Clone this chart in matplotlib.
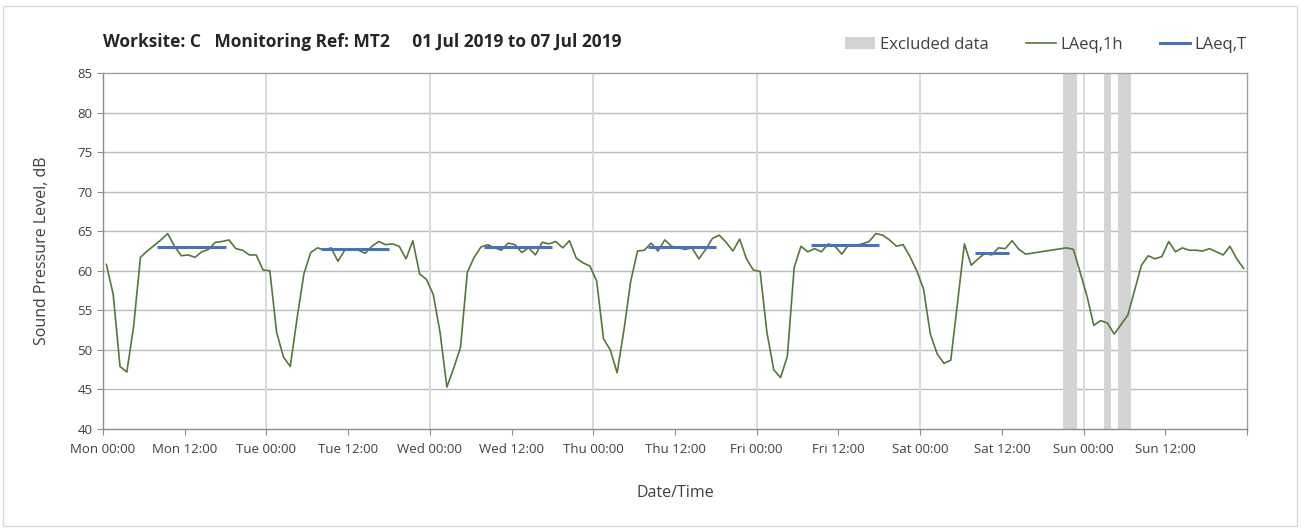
import numpy as np
import matplotlib.pyplot as plt
from matplotlib.lines import Line2D
from matplotlib.patches import Patch, Rectangle

plt.rcParams['font.family'] = ['Open Sans', 'DejaVu Sans']

# hourly LAeq,1h values (hour index from Mon 00:00), nan = no point drawn
laeq_1h = [
    60.8, 57.0, 47.9, 47.2, 53.0, 61.7, 62.5, 63.2, 63.9, 64.7, 63.1, 61.9,
    62.0, 61.7, 62.4, 62.7, 63.6, 63.7, 63.9, 62.8, 62.6, 62.0, 62.0, 60.1,
    60.0, 52.2, 49.1, 47.9, 54.0, 59.6, 62.3, 62.9, 62.6, 62.9, 61.2, 62.6,
    62.7, 62.6, 62.2, 63.1, 63.7, 63.3, 63.4, 63.1, 61.5, 63.8, 59.6, 58.9,
    57.0, 52.2, 45.3, 47.7, 50.3, 59.8, 61.7, 63.0, 63.3, 62.9, 62.6, 63.5,
    63.3, 62.3, 62.9, 62.0, 63.6, 63.4, 63.7, 62.9, 63.8, 61.6, 61.0, 60.6,
    58.7, 51.4, 50.0, 47.1, 52.5, 58.7, 62.5, 62.6, 63.5, 62.5, 63.9, 63.1,
    62.9, 62.7, 62.9, 61.5, 62.7, 64.1, 64.5, 63.6, 62.5, 64.0, 61.5, 60.1,
    59.9, 52.2, 47.5, 46.5, 49.2, 60.4, 63.1, 62.4, 62.8, 62.4, 63.4, 63.1,
    62.1, 63.3, 63.2, 63.4, 63.7, 64.7, 64.5, 63.9, 63.1, 63.3, 61.8, 60.0,
    57.7, 52.0, 49.5, 48.3, 48.7, np.nan, 63.4, 60.7, 61.5, 62.2, 62.0, 62.9,
    62.8, 63.8, 62.7, 62.1, np.nan, np.nan, np.nan, np.nan, np.nan, 62.9, 62.7, 59.8,
    56.8, 53.1, 53.7, 53.4, 52.0, np.nan, 54.4, np.nan, 60.7, 61.9, 61.5, 61.8,
    63.7, 62.4, 62.9, 62.6, 62.6, 62.5, 62.8, 62.4, 62.0, 63.1, 61.5, 60.3,
]

# LAeq,T daytime periods (hours from Mon 00:00)
laeqT_start = [8, 32, 56, 80, 104, 128]
laeqT_end = [18, 42, 66, 90, 114, 133]
laeqT_values = [63.0, 62.7, 63.0, 63.0, 63.2, 62.3]

# excluded periods (hours from Mon 00:00)
excl_start = [141, 147, 149]
excl_end = [143, 148, 151]

tick_labels = ["Mon 00:00", "Mon 12:00", "Tue 00:00", "Tue 12:00", "Wed 00:00",
               "Wed 12:00", "Thu 00:00", "Thu 12:00", "Fri 00:00", "Fri 12:00",
               "Sat 00:00", "Sat 12:00", "Sun 00:00", "Sun 12:00", ""]

hours = np.arange(len(laeq_1h)) + 0.5
vals = np.array(laeq_1h)
ok = ~np.isnan(vals)

green = '#56773a'
blue = '#4472c4'
grey_band = '#d4d4d4'
txt = '#404040'

fig = plt.figure(figsize=(13.01, 5.29), dpi=100)
ax = fig.add_axes([103 / 1301, 1 - 429 / 529, 1144 / 1301, 356 / 529])

# outer chart border
fig.patches.append(Rectangle((3 / 1301, 3 / 529), 1294 / 1301, 520 / 529,
                             transform=fig.transFigure, fill=False,
                             edgecolor='#d9d9d9', lw=1))

for s, e in zip(excl_start, excl_end):
    ax.axvspan(s, e, color=grey_band, lw=0, zorder=1)

ax.plot(hours[ok], vals[ok], color=green, lw=1.2, zorder=3)
ax.hlines(laeqT_values, laeqT_start, laeqT_end, color=blue, lw=2.2, zorder=4)

ax.set_xlim(0, 168)
ax.set_ylim(40, 85)
ax.set_yticks(np.arange(40, 86, 5))
ax.set_xticks(np.arange(0, 169, 12))
ax.set_xticklabels(tick_labels)

# gridlines: horizontal every 5 dB, vertical at day boundaries
for y in range(45, 85, 5):
    ax.axhline(y, color='#bcbcbc', lw=1.0, zorder=0)
for d in range(24, 168, 24):
    ax.axvline(d, color='#dadada', lw=1.4, zorder=0)

for sp in ax.spines.values():
    sp.set_color('#a0a0a0')
    sp.set_linewidth(1.0)
ax.spines['left'].set_color('#8c8c8c')
ax.spines['bottom'].set_color('#8c8c8c')
ax.tick_params(axis='both', direction='out', length=4, color='#8c8c8c',
               labelsize=9.5, labelcolor=txt)
ax.tick_params(axis='x', pad=6)

ax.set_ylabel("Sound Pressure Level, dB", fontsize=11.5, color=txt, labelpad=20)
ax.set_xlabel("Date/Time", fontsize=11.5, color=txt, labelpad=21)

fig.text(103 / 1301, 1 - 42 / 529,
         "Worksite: C   Monitoring Ref: MT2     01 Jul 2019 to 07 Jul 2019",
         fontsize=12.5, fontweight='bold', color='#262626', va='center')

handles = [Patch(facecolor=grey_band, edgecolor='none'),
           Line2D([], [], color=green, lw=1.2),
           Line2D([], [], color=blue, lw=2.2)]
fig.legend(handles, ["Excluded data", "LAeq,1h", "LAeq,T"], ncol=3,
           loc='center right', bbox_to_anchor=(1262 / 1301, 1 - 45 / 529),
           frameon=False, fontsize=12, handlelength=1.8, handletextpad=0.3,
           columnspacing=2.2, labelcolor=txt)

fig.savefig("out.png", dpi=100)
